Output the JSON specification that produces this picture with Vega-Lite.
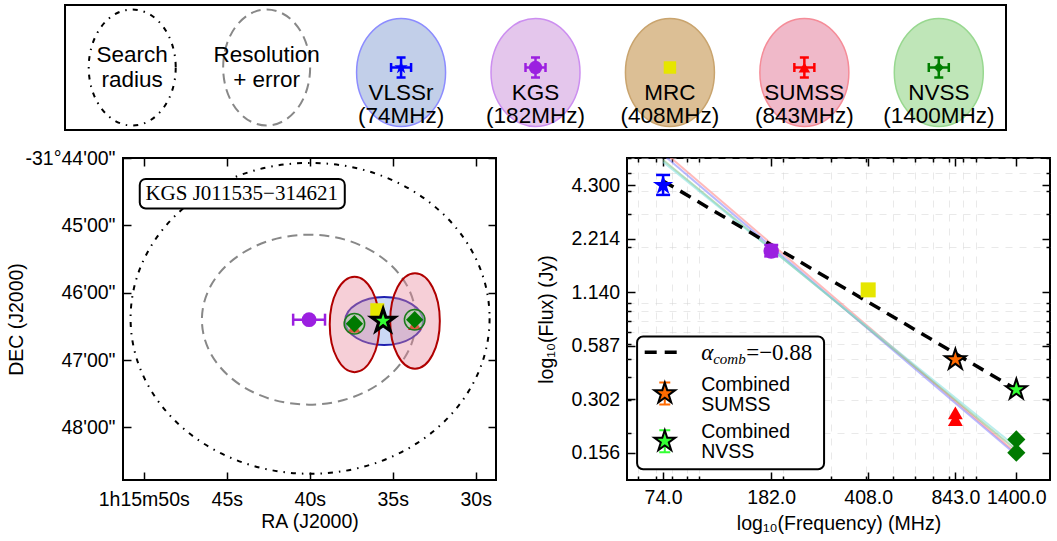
{
  "$schema": "https://vega.github.io/schema/vega-lite/v6.json",
  "padding": {"left": 5, "top": 4, "right": 0, "bottom": 0},
  "background": "white",
  "spacing": 16,
  "config": {
    "font": "Liberation Sans",
    "view": {"stroke": "black", "strokeWidth": 2},
    "axis": {"labelFont": "Liberation Sans", "titleFont": "Liberation Sans", "labelFontSize": 19.5, "titleFontSize": 19.5, "titleFontWeight": "normal", "labelColor": "black", "titleColor": "black", "tickColor": "black", "tickWidth": 1.5, "domain": false, "grid": false, "labelFlush": false}
  },
  "vconcat": [
    {
      "width": 883,
      "height": 125,
      "view": {"stroke": null},
      "resolve": {"scale": {"fill": "independent", "stroke": "independent", "shape": "independent", "size": "independent", "color": "independent"}},
      "layer": [
        {
          "data": {"values": [{}]},
          "mark": {"type": "rect", "fill": "white", "stroke": "black", "strokeWidth": 2},
          "encoding": {
            "x": {"datum": -0.5, "type": "quantitative", "scale": {"domain": [-0.0686, 6.5], "nice": false, "zero": false}, "axis": null},
            "x2": {"datum": 6.5},
            "y": {"datum": 0, "type": "quantitative", "scale": {"domain": [0, 1], "nice": false, "zero": false}, "axis": null},
            "y2": {"datum": 1}
          }
        },
        {
          "data": {"values": [{"slot": 0}]},
          "mark": {"type": "point", "shape": "M0.75,0C0.75,0.5523 0.4142,1 0,1C-0.4142,1 -0.75,0.5523 -0.75,0C-0.75,-0.5523 -0.4142,-1 0,-1C0.4142,-1 0.75,-0.5523 0.75,0Z", "size": 13456, "filled": false, "stroke": "black", "strokeWidth": 2, "strokeDash": [5, 6, 1.5, 6], "opacity": 1},
          "encoding": {
            "x": {"field": "slot", "type": "quantitative", "axis": null},
            "y": {"datum": 0.5, "type": "quantitative", "axis": null}
          }
        },
        {
          "data": {"values": [{"slot": 1}]},
          "mark": {"type": "point", "shape": "M0.75,0C0.75,0.5523 0.4142,1 0,1C-0.4142,1 -0.75,0.5523 -0.75,0C-0.75,-0.5523 -0.4142,-1 0,-1C0.4142,-1 0.75,-0.5523 0.75,0Z", "size": 13456, "filled": false, "stroke": "#888888", "strokeWidth": 2, "strokeDash": [10, 6], "opacity": 1},
          "encoding": {
            "x": {"field": "slot", "type": "quantitative", "axis": null},
            "y": {"datum": 0.5, "type": "quantitative", "axis": null}
          }
        },
        {
          "data": {"values": [{"slot": 0, "lines": ["Search", "radius"]}, {"slot": 1, "lines": ["Resolution", "+ error"]}]},
          "mark": {"type": "text", "fontSize": 22.5, "align": "center", "baseline": "middle", "lineHeight": 24.5, "color": "black"},
          "encoding": {
            "x": {"field": "slot", "type": "quantitative", "axis": null},
            "y": {"datum": 0.6, "type": "quantitative", "axis": null},
            "text": {"field": "lines"}
          }
        },
        {
          "data": {"name": "surveys"},
          "mark": {"type": "point", "shape": "M0.824,0C0.824,0.5523 0.4551,1 0,1C-0.4551,1 -0.824,0.5523 -0.824,0C-0.824,-0.5523 -0.4551,-1 0,-1C0.4551,-1 0.824,-0.5523 0.824,0Z", "size": 11664, "filled": true, "strokeWidth": 1.5, "opacity": 1},
          "encoding": {
            "x": {"field": "slot", "type": "quantitative", "axis": null},
            "y": {"datum": 0.46, "type": "quantitative", "axis": null},
            "fill": {"field": "name", "type": "nominal", "scale": {"domain": ["VLSSr", "KGS", "MRC", "SUMSS", "NVSS"], "range": ["#c2cfe9", "#e4c6ec", "#dcbf95", "#f0b9c9", "#bfe6b8"]}, "legend": null},
            "stroke": {"field": "name", "type": "nominal", "scale": {"domain": ["VLSSr", "KGS", "MRC", "SUMSS", "NVSS"], "range": ["#8c8cff", "#cc8ef0", "#c9a46e", "#f58c98", "#98d890"]}, "legend": null}
          }
        },
        {
          "data": {"name": "surveys"},
          "transform": [{"filter": "datum.name != 'MRC'"}],
          "mark": {"type": "point", "shape": "M-1,0L1,0M0,-1L0,1M-1,-0.45L-1,0.45M1,-0.45L1,0.45M-0.45,-1L0.45,-1M-0.45,1L0.45,1", "size": 400, "filled": false, "strokeWidth": 2.5, "opacity": 1},
          "encoding": {
            "x": {"field": "slot", "type": "quantitative", "axis": null},
            "y": {"datum": 0.5, "type": "quantitative", "axis": null},
            "color": {"field": "name", "type": "nominal", "scale": {"domain": ["VLSSr", "KGS", "MRC", "SUMSS", "NVSS"], "range": ["#0000ff", "#9b1fe0", "#e6e600", "#ff0000", "#007f00"]}, "legend": null}
          }
        },
        {
          "data": {"name": "surveys"},
          "mark": {"type": "point", "filled": true, "opacity": 1},
          "encoding": {
            "x": {"field": "slot", "type": "quantitative", "axis": null},
            "y": {"datum": 0.5, "type": "quantitative", "axis": null},
            "shape": {"field": "name", "type": "nominal", "scale": {"domain": ["VLSSr", "KGS", "MRC", "SUMSS", "NVSS"], "range": ["M0,-1L0.2245,-0.309L0.9511,-0.309L0.3633,0.118L0.5878,0.809L0,0.382L-0.5878,0.809L-0.3633,0.118L-0.9511,-0.309L-0.2245,-0.309Z", "circle", "square", "triangle-up", "diamond"]}, "legend": null},
            "size": {"field": "name", "type": "nominal", "scale": {"domain": ["VLSSr", "KGS", "MRC", "SUMSS", "NVSS"], "range": [200, 110, 200, 150, 160]}, "legend": null},
            "color": {"field": "name", "type": "nominal", "scale": {"domain": ["VLSSr", "KGS", "MRC", "SUMSS", "NVSS"], "range": ["#0000ff", "#9b1fe0", "#e6e600", "#ff0000", "#007f00"]}, "legend": null}
          }
        },
        {
          "data": {"name": "surveys"},
          "mark": {"type": "text", "fontSize": 22.5, "align": "center", "baseline": "middle", "lineHeight": 23, "color": "black"},
          "encoding": {
            "x": {"field": "slot", "type": "quantitative", "axis": null},
            "y": {"datum": 0.296, "type": "quantitative", "axis": null},
            "text": {"field": "lines"}
          }
        }
      ]
    },
    {
      "spacing": 37,
      "hconcat": [
        {
          "width": 373,
          "height": 322,
          "resolve": {"axis": {"x": "independent", "y": "independent"}},
          "layer": [
            {
              "data": {"values": [{"obj": "search", "ra": 39.98, "dec": 46.38}]},
              "mark": {"type": "point", "shape": "M1,0C1,0.4783 0.5523,0.866 0,0.866C-0.5523,0.866 -1,0.4783 -1,0C-1,-0.4783 -0.5523,-0.866 0,-0.866C0.5523,-0.866 1,-0.4783 1,0Z", "size": 128881, "filled": false, "stroke": "black", "strokeWidth": 2, "strokeDash": [5, 6, 1.5, 6], "opacity": 1},
              "encoding": {
                "x": {"field": "ra", "type": "quantitative", "scale": {"domain": [28.78, 51.25], "reverse": true, "nice": false, "zero": false},
                  "axis": {"orient": "bottom", "values": [50, 45, 40, 35, 30], "labelExpr": "datum.value == 50 ? '1h15m50s' : datum.value + 's'", "tickSize": -8, "labelPadding": 18.5, "title": "RA (J2000)", "titlePadding": 3}},
                "y": {"field": "dec", "type": "quantitative", "scale": {"domain": [44, 48.78], "reverse": true, "nice": false, "zero": false},
                  "axis": {"orient": "left", "values": [44, 45, 46, 47, 48], "labelExpr": "datum.value == 44 ? '-31°44\\'00\"' : datum.value + '\\'00\"'", "tickSize": -8, "labelPadding": 16, "title": "DEC (J2000)", "titlePadding": -2}}
              }
            },
            {
              "data": {"values": [{"obj": "resolution", "ra": 40.05, "dec": 46.40}]},
              "mark": {"type": "point", "shape": "M1,0C1,0.4385 0.5523,0.794 0,0.794C-0.5523,0.794 -1,0.4385 -1,0C-1,-0.4385 -0.5523,-0.794 0,-0.794C0.5523,-0.794 1,-0.4385 1,0Z", "size": 45796, "filled": false, "stroke": "#888888", "strokeWidth": 2, "strokeDash": [10, 6], "opacity": 1},
              "encoding": {
                "x": {"field": "ra", "type": "quantitative", "axis": {"orient": "top", "values": [50, 45, 40, 35, 30], "labels": false, "tickSize": -8, "title": null}},
                "y": {"field": "dec", "type": "quantitative", "axis": {"orient": "right", "values": [44, 45, 46, 47, 48], "labels": false, "tickSize": -8, "title": null}}
              }
            },
            {
              "data": {"values": [{"obj": "VLSSr", "ra": 35.52, "dec": 46.42}]},
              "mark": {"type": "point", "shape": "M1,0C1,0.3397 0.5523,0.615 0,0.615C-0.5523,0.615 -1,0.3397 -1,0C-1,-0.3397 -0.5523,-0.615 0,-0.615C0.5523,-0.615 1,-0.3397 1,0Z", "size": 6084, "filled": true, "fill": "#a9bff0", "fillOpacity": 0.6, "stroke": "#2020b0", "strokeWidth": 2, "opacity": 1},
              "encoding": {
                "x": {"field": "ra", "type": "quantitative", "axis": null},
                "y": {"field": "dec", "type": "quantitative", "axis": null}
              }
            },
            {
              "data": {"values": [{"obj": "SUMSS", "ra": 37.30, "dec": 46.47}, {"obj": "SUMSS", "ra": 33.66, "dec": 46.42}]},
              "mark": {"type": "point", "shape": "M0.52,0C0.52,0.5523 0.2872,1 0,1C-0.2872,1 -0.52,0.5523 -0.52,0C-0.52,-0.5523 -0.2872,-1 0,-1C0.2872,-1 0.52,-0.5523 0.52,0Z", "size": 9120, "filled": true, "fill": "#e8869c", "fillOpacity": 0.4, "stroke": "#b00000", "strokeWidth": 2, "opacity": 1},
              "encoding": {
                "x": {"field": "ra", "type": "quantitative", "axis": null},
                "y": {"field": "dec", "type": "quantitative", "axis": null}
              }
            },
            {
              "data": {"values": [{"obj": "SUMSS", "ra": 37.33, "dec": 46.51}, {"obj": "SUMSS", "ra": 33.68, "dec": 46.47}]},
              "mark": {"type": "point", "shape": "triangle-up", "size": 170, "filled": true, "color": "#ff0000", "opacity": 1},
              "encoding": {
                "x": {"field": "ra", "type": "quantitative", "axis": null},
                "y": {"field": "dec", "type": "quantitative", "axis": null}
              }
            },
            {
              "data": {"values": [{"obj": "NVSS", "ra": 37.31, "dec": 46.46}, {"obj": "NVSS", "ra": 33.68, "dec": 46.40}]},
              "mark": {"type": "point", "shape": "circle", "size": 420, "filled": true, "fill": "#9fe09f", "fillOpacity": 0.4, "stroke": "#1a7a1a", "strokeWidth": 1.5, "opacity": 1},
              "encoding": {
                "x": {"field": "ra", "type": "quantitative", "axis": null},
                "y": {"field": "dec", "type": "quantitative", "axis": null}
              }
            },
            {
              "data": {"values": [{"obj": "NVSS", "ra": 37.31, "dec": 46.46}, {"obj": "NVSS", "ra": 33.68, "dec": 46.40}]},
              "mark": {"type": "point", "shape": "diamond", "size": 300, "filled": true, "color": "#007a00", "opacity": 1},
              "encoding": {
                "x": {"field": "ra", "type": "quantitative", "axis": null},
                "y": {"field": "dec", "type": "quantitative", "axis": null}
              }
            },
            {
              "data": {"values": [{"obj": "MRC", "ra": 35.93, "dec": 46.26}]},
              "mark": {"type": "point", "shape": "square", "size": 196, "filled": true, "color": "#e6e600", "opacity": 1},
              "encoding": {
                "x": {"field": "ra", "type": "quantitative", "axis": null},
                "y": {"field": "dec", "type": "quantitative", "axis": null}
              }
            },
            {
              "data": {"values": [{"obj": "KGS", "ra": 40.04, "dec": 46.40, "ra_lo": 41.0, "ra_hi": 39.08}]},
              "mark": {"type": "rule", "color": "#9b1fe0", "strokeWidth": 2.5},
              "encoding": {
                "x": {"field": "ra_lo", "type": "quantitative", "axis": null},
                "x2": {"field": "ra_hi"},
                "y": {"field": "dec", "type": "quantitative", "axis": null}
              }
            },
            {
              "data": {"values": [{"obj": "KGS", "ra": 40.04, "dec": 46.40, "ra_lo": 41.0, "ra_hi": 39.08}]},
              "transform": [{"fold": ["ra_lo", "ra_hi"], "as": ["k", "edge"]}],
              "mark": {"type": "tick", "orient": "vertical", "color": "#9b1fe0", "size": 12, "thickness": 2.5, "opacity": 1},
              "encoding": {
                "x": {"field": "edge", "type": "quantitative", "axis": null},
                "y": {"field": "dec", "type": "quantitative", "axis": null}
              }
            },
            {
              "data": {"values": [{"obj": "KGS", "ra": 40.04, "dec": 46.40}]},
              "mark": {"type": "point", "shape": "circle", "size": 220, "filled": true, "color": "#9b1fe0", "opacity": 1},
              "encoding": {
                "x": {"field": "ra", "type": "quantitative", "axis": null},
                "y": {"field": "dec", "type": "quantitative", "axis": null}
              }
            },
            {
              "data": {"values": [{"obj": "Combined", "ra": 35.58, "dec": 46.42}]},
              "mark": {"type": "point", "shape": "M0,-1L0.2245,-0.309L0.9511,-0.309L0.3633,0.118L0.5878,0.809L0,0.382L-0.5878,0.809L-0.3633,0.118L-0.9511,-0.309L-0.2245,-0.309Z", "size": 600, "filled": true, "fill": "#33ff33", "stroke": "black", "strokeWidth": 3, "opacity": 1},
              "encoding": {
                "x": {"field": "ra", "type": "quantitative", "axis": null},
                "y": {"field": "dec", "type": "quantitative", "axis": null}
              }
            },
            {
              "data": {"values": [{}]},
              "mark": {"type": "rect", "fill": "white", "stroke": "black", "strokeWidth": 2, "cornerRadius": 6},
              "encoding": {
                "x": {"datum": 50.24, "type": "quantitative", "axis": null},
                "x2": {"datum": 37.89},
                "y": {"datum": 44.31, "type": "quantitative", "axis": null},
                "y2": {"datum": 44.75}
              }
            },
            {
              "data": {"values": [{}]},
              "mark": {"type": "text", "text": "KGS J011535−314621", "font": "Liberation Serif", "fontSize": 21, "align": "center", "baseline": "middle", "color": "black"},
              "encoding": {
                "x": {"datum": 44.1, "type": "quantitative", "axis": null},
                "y": {"datum": 44.535, "type": "quantitative", "axis": null}
              }
            }
          ]
        },
        {
          "width": 423,
          "height": 322,
          "resolve": {"axis": {"x": "independent", "y": "independent"}, "scale": {"color": "independent", "stroke": "independent"}},
          "layer": [
            {
              "data": {"values": [
                {"fit": "f1", "freq": 74, "flux": 6.563}, {"fit": "f1", "freq": 1400, "flux": 0.1551},
                {"fit": "f2", "freq": 74, "flux": 6.29}, {"fit": "f2", "freq": 1400, "flux": 0.1515},
                {"fit": "f3", "freq": 74, "flux": 5.88}, {"fit": "f3", "freq": 1400, "flux": 0.1612},
                {"fit": "f4", "freq": 74, "flux": 5.74}, {"fit": "f4", "freq": 1400, "flux": 0.1673}
              ]},
              "mark": {"type": "line", "strokeWidth": 2, "opacity": 0.55, "clip": true},
              "encoding": {
                "x": {"field": "freq", "type": "quantitative", "scale": {"type": "log", "domain": [54.8, 1853], "nice": false},
                  "axis": {"orient": "bottom", "values": [74, 182, 408, 843, 1400], "format": ".1f", "tickSize": -8, "labelPadding": 16, "title": "log₁₀(Frequency) (MHz)", "titlePadding": 8}},
                "y": {"field": "flux", "type": "quantitative", "scale": {"type": "log", "domain": [0.1112, 6.03], "nice": false},
                  "axis": {"orient": "left", "values": [4.3, 2.214, 1.14, 0.587, 0.302, 0.156], "format": ".3f", "tickSize": -8, "labelPadding": 15.3, "title": "log₁₀(Flux) (Jy)", "titlePadding": 14}},
                "color": {"field": "fit", "type": "nominal", "scale": {"domain": ["f1", "f2", "f3", "f4"], "range": ["#ff7f7f", "#8080ff", "#7fbf7f", "#7fdfdf"]}, "legend": null}
              }
            },
            {
              "data": {"values": [{"freq": 74, "flux": 4.536}, {"freq": 1400, "flux": 0.3413}]},
              "mark": {"type": "line", "color": "black", "strokeWidth": 3.5, "strokeDash": [12, 8]},
              "encoding": {
                "x": {"field": "freq", "type": "quantitative", "axis": {"orient": "bottom", "values": [60, 70, 80, 90, 100, 200, 300, 400, 500, 600, 700, 800, 900, 1000], "labels": false, "tickSize": -4, "grid": true, "gridColor": "#d4d4d4", "gridDash": [7, 7], "gridOpacity": 0.5, "title": null}},
                "y": {"field": "flux", "type": "quantitative", "axis": {"orient": "left", "values": [0.2, 0.3, 0.4, 0.5, 0.6, 0.7, 0.8, 0.9, 1, 2, 3, 4, 5, 6], "labels": false, "tickSize": -4, "grid": true, "gridColor": "#d4d4d4", "gridDash": [7, 7], "gridOpacity": 0.5, "title": null}}
              }
            },
            {
              "data": {"values": [{"survey": "VLSSr", "freq": 74, "lo": 3.815, "hi": 4.886}, {"survey": "KGS", "freq": 182, "lo": 1.78, "hi": 2.05}]},
              "mark": {"type": "rule", "strokeWidth": 2.5},
              "encoding": {
                "x": {"field": "freq", "type": "quantitative", "axis": {"orient": "top", "values": [74, 182, 408, 843, 1400], "labels": false, "tickSize": -8, "title": null}},
                "y": {"field": "lo", "type": "quantitative", "axis": {"orient": "right", "values": [4.3, 2.214, 1.14, 0.587, 0.302, 0.156], "labels": false, "tickSize": -8, "title": null}},
                "y2": {"field": "hi"},
                "color": {"field": "survey", "type": "nominal", "scale": {"domain": ["VLSSr", "KGS"], "range": ["#0000ff", "#9b1fe0"]}, "legend": null}
              }
            },
            {
              "data": {"values": [{"survey": "VLSSr", "freq": 74, "lo": 3.815, "hi": 4.886}, {"survey": "KGS", "freq": 182, "lo": 1.78, "hi": 2.05}]},
              "transform": [{"fold": ["lo", "hi"], "as": ["k", "v"]}],
              "mark": {"type": "tick", "orient": "horizontal", "size": 14, "thickness": 2.5, "opacity": 1},
              "encoding": {
                "x": {"field": "freq", "type": "quantitative", "axis": {"orient": "top", "values": [60, 70, 80, 90, 100, 200, 300, 400, 500, 600, 700, 800, 900, 1000], "labels": false, "tickSize": -4, "title": null}},
                "y": {"field": "v", "type": "quantitative", "axis": {"orient": "right", "values": [0.2, 0.3, 0.4, 0.5, 0.6, 0.7, 0.8, 0.9, 1, 2, 3, 4, 5, 6], "labels": false, "tickSize": -4, "title": null}},
                "color": {"field": "survey", "type": "nominal", "scale": {"domain": ["VLSSr", "KGS"], "range": ["#0000ff", "#9b1fe0"]}, "legend": null}
              }
            },
            {
              "data": {"name": "sed"},
              "transform": [{"filter": "datum.survey == 'VLSSr'"}],
              "mark": {"type": "point", "shape": "M0,-1L0.2245,-0.309L0.9511,-0.309L0.3633,0.118L0.5878,0.809L0,0.382L-0.5878,0.809L-0.3633,0.118L-0.9511,-0.309L-0.2245,-0.309Z", "size": 460, "filled": true, "color": "#0000ff", "opacity": 1},
              "encoding": {"x": {"field": "freq", "type": "quantitative", "axis": null}, "y": {"field": "flux", "type": "quantitative", "axis": null}}
            },
            {
              "data": {"name": "sed"},
              "transform": [{"filter": "datum.survey == 'KGS'"}],
              "mark": {"type": "point", "shape": "circle", "size": 240, "filled": true, "color": "#9b1fe0", "opacity": 1},
              "encoding": {"x": {"field": "freq", "type": "quantitative", "axis": null}, "y": {"field": "flux", "type": "quantitative", "axis": null}}
            },
            {
              "data": {"name": "sed"},
              "transform": [{"filter": "datum.survey == 'MRC'"}],
              "mark": {"type": "point", "shape": "square", "size": 225, "filled": true, "color": "#e6e600", "opacity": 1},
              "encoding": {"x": {"field": "freq", "type": "quantitative", "axis": null}, "y": {"field": "flux", "type": "quantitative", "axis": null}}
            },
            {
              "data": {"name": "sed"},
              "transform": [{"filter": "datum.survey == 'SUMSS'"}],
              "mark": {"type": "point", "shape": "triangle-up", "size": 220, "filled": true, "color": "#ff0000", "opacity": 1},
              "encoding": {"x": {"field": "freq", "type": "quantitative", "axis": null}, "y": {"field": "flux", "type": "quantitative", "axis": null}}
            },
            {
              "data": {"name": "sed"},
              "transform": [{"filter": "datum.survey == 'NVSS'"}],
              "mark": {"type": "point", "shape": "diamond", "size": 330, "filled": true, "color": "#007a00", "opacity": 1},
              "encoding": {"x": {"field": "freq", "type": "quantitative", "axis": null}, "y": {"field": "flux", "type": "quantitative", "axis": null}}
            },
            {
              "data": {"name": "sed"},
              "transform": [{"filter": "indexof(datum.survey, 'Combined') == 0"}],
              "mark": {"type": "point", "shape": "M0,-1L0.2245,-0.309L0.9511,-0.309L0.3633,0.118L0.5878,0.809L0,0.382L-0.5878,0.809L-0.3633,0.118L-0.9511,-0.309L-0.2245,-0.309Z", "size": 480, "filled": true, "stroke": "black", "strokeWidth": 2, "opacity": 1},
              "encoding": {
                "x": {"field": "freq", "type": "quantitative", "axis": null},
                "y": {"field": "flux", "type": "quantitative", "axis": null},
                "fill": {"field": "survey", "type": "nominal", "scale": {"domain": ["Combined SUMSS", "Combined NVSS"], "range": ["#ff6a00", "#33ff33"]}, "legend": null}
              }
            },
            {
              "data": {"values": [{}]},
              "mark": {"type": "rect", "fill": "white", "stroke": "black", "strokeWidth": 2, "cornerRadius": 6},
              "encoding": {
                "x": {"datum": 59.6, "type": "quantitative", "axis": null},
                "x2": {"datum": 282.6},
                "y": {"datum": 0.6597, "type": "quantitative", "axis": null},
                "y2": {"datum": 0.127}
              }
            },
            {
              "data": {"values": [{"freq": 63.5, "flux": 0.543}, {"freq": 86.1, "flux": 0.543}]},
              "mark": {"type": "line", "color": "black", "strokeWidth": 3.5, "strokeDash": [12, 8]},
              "encoding": {"x": {"field": "freq", "type": "quantitative", "axis": null}, "y": {"field": "flux", "type": "quantitative", "axis": null}}
            },
            {
              "data": {"values": [{}]},
              "mark": {"type": "text", "text": "α", "font": "Liberation Serif", "fontStyle": "italic", "fontSize": 23, "align": "left", "baseline": "middle", "color": "black"},
              "encoding": {"x": {"datum": 101.6, "type": "quantitative", "axis": null}, "y": {"datum": 0.54, "type": "quantitative", "axis": null}}
            },
            {
              "data": {"values": [{}]},
              "mark": {"type": "text", "text": "comb", "font": "Liberation Serif", "fontStyle": "italic", "fontSize": 15, "align": "left", "baseline": "middle", "dx": 12, "dy": 6, "color": "black"},
              "encoding": {"x": {"datum": 101.6, "type": "quantitative", "axis": null}, "y": {"datum": 0.54, "type": "quantitative", "axis": null}}
            },
            {
              "data": {"values": [{}]},
              "mark": {"type": "text", "text": "=−0.88", "font": "Liberation Serif", "fontSize": 23, "align": "left", "baseline": "middle", "dx": 45, "color": "black"},
              "encoding": {"x": {"datum": 101.6, "type": "quantitative", "axis": null}, "y": {"datum": 0.54, "type": "quantitative", "axis": null}}
            },
            {
              "data": {"values": [{"survey": "Combined SUMSS", "freq": 75.05, "flux": 0.3249}, {"survey": "Combined NVSS", "freq": 75.05, "flux": 0.1799}]},
              "mark": {"type": "point", "shape": "M0,-1L0,1M-0.5,-1L0.5,-1M-0.5,1L0.5,1", "size": 484, "filled": false, "strokeWidth": 2, "opacity": 1},
              "encoding": {
                "x": {"field": "freq", "type": "quantitative", "axis": null},
                "y": {"field": "flux", "type": "quantitative", "axis": null},
                "stroke": {"field": "survey", "type": "nominal", "scale": {"domain": ["Combined SUMSS", "Combined NVSS"], "range": ["#ff6a00", "#33ff33"]}, "legend": null}
              }
            },
            {
              "data": {"values": [{"survey": "Combined SUMSS", "freq": 75.05, "flux": 0.3249}, {"survey": "Combined NVSS", "freq": 75.05, "flux": 0.1799}]},
              "mark": {"type": "point", "shape": "M0,-1L0.2245,-0.309L0.9511,-0.309L0.3633,0.118L0.5878,0.809L0,0.382L-0.5878,0.809L-0.3633,0.118L-0.9511,-0.309L-0.2245,-0.309Z", "size": 480, "filled": true, "stroke": "black", "strokeWidth": 2, "opacity": 1},
              "encoding": {
                "x": {"field": "freq", "type": "quantitative", "axis": null},
                "y": {"field": "flux", "type": "quantitative", "axis": null},
                "fill": {"field": "survey", "type": "nominal", "scale": {"domain": ["Combined SUMSS", "Combined NVSS"], "range": ["#ff6a00", "#33ff33"]}, "legend": null}
              }
            },
            {
              "data": {"values": [{"lines": ["Combined", "SUMSS"], "freq": 101.6, "flux": 0.3631}, {"lines": ["Combined", "NVSS"], "freq": 101.6, "flux": 0.2019}]},
              "mark": {"type": "text", "fontSize": 19.5, "align": "left", "baseline": "middle", "lineHeight": 20, "color": "black"},
              "encoding": {
                "x": {"field": "freq", "type": "quantitative", "axis": null},
                "y": {"field": "flux", "type": "quantitative", "axis": null},
                "text": {"field": "lines"}
              }
            }
          ]
        }
      ]
    }
  ],
  "datasets": {
    "surveys": [
      {"slot": 2, "name": "VLSSr", "lines": ["VLSSr", "(74MHz)"]},
      {"slot": 3, "name": "KGS", "lines": ["KGS", "(182MHz)"]},
      {"slot": 4, "name": "MRC", "lines": ["MRC", "(408MHz)"]},
      {"slot": 5, "name": "SUMSS", "lines": ["SUMSS", "(843MHz)"]},
      {"slot": 6, "name": "NVSS", "lines": ["NVSS", "(1400MHz)"]}
    ],
    "sed": [
      {"survey": "VLSSr", "freq": 74, "flux": 4.3},
      {"survey": "KGS", "freq": 182, "flux": 1.903},
      {"survey": "MRC", "freq": 408, "flux": 1.175},
      {"survey": "SUMSS", "freq": 843, "flux": 0.2557},
      {"survey": "SUMSS", "freq": 843, "flux": 0.2354},
      {"survey": "NVSS", "freq": 1400, "flux": 0.184},
      {"survey": "NVSS", "freq": 1400, "flux": 0.156},
      {"survey": "Combined SUMSS", "freq": 843, "flux": 0.4945},
      {"survey": "Combined NVSS", "freq": 1400, "flux": 0.3413}
    ]
  }
}
